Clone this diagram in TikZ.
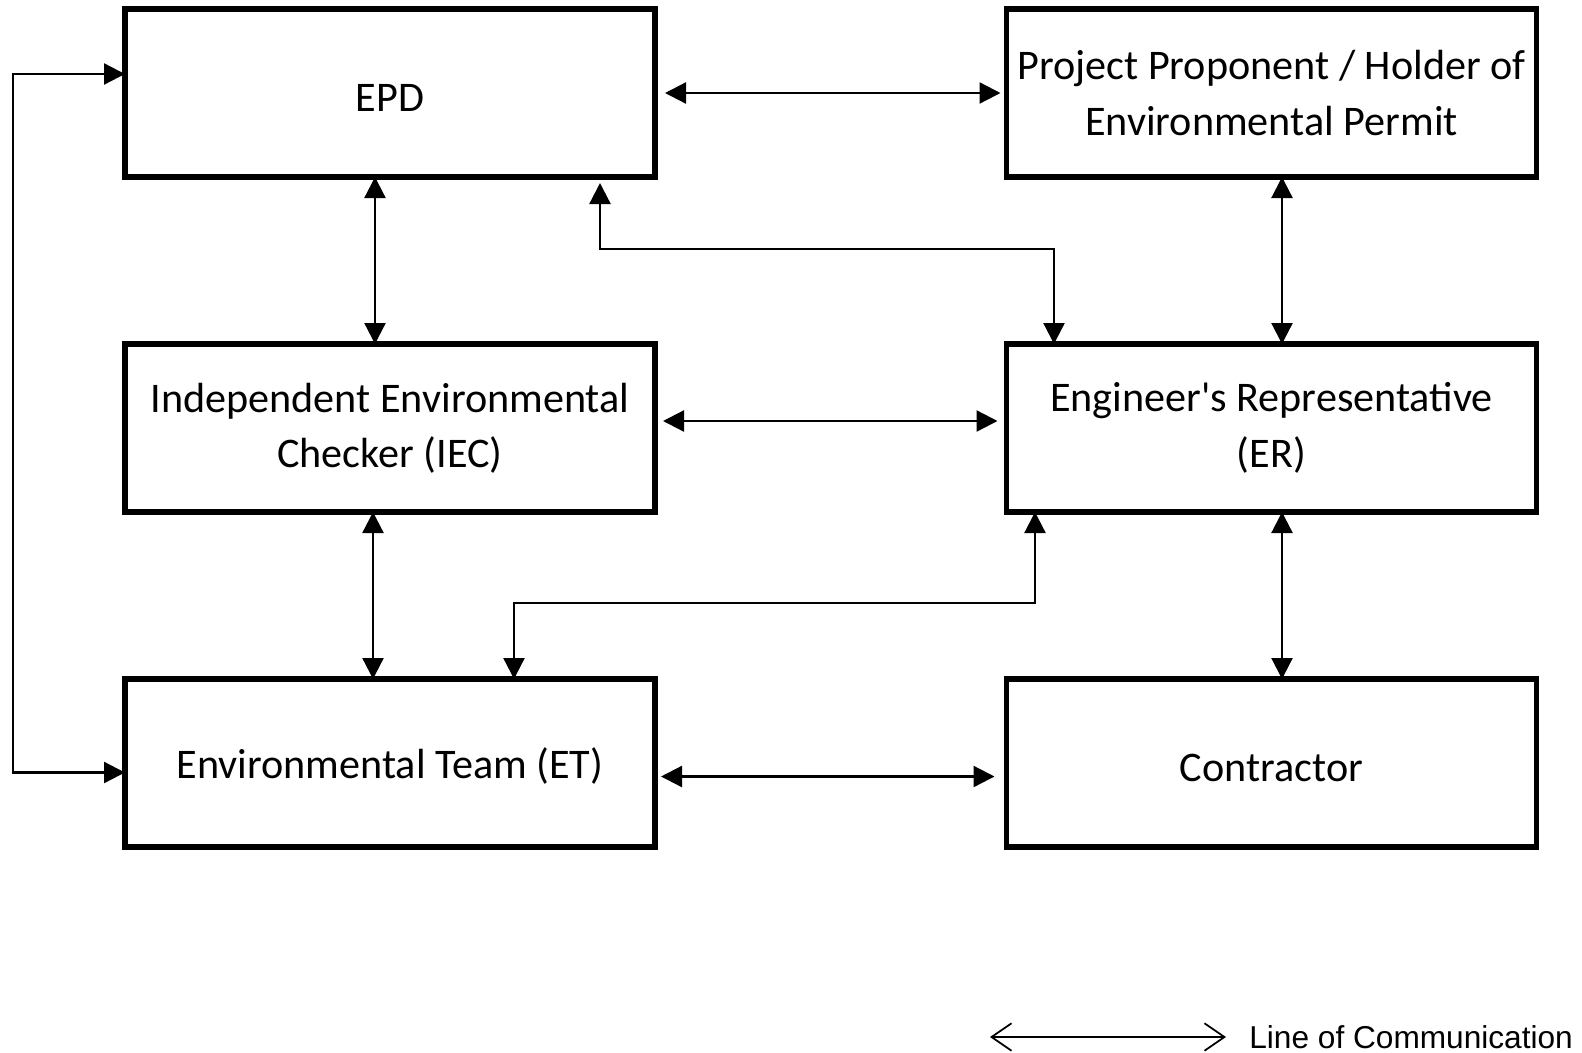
\documentclass[tikz,border=0pt]{standalone}
\usepackage{fontspec}
\setmainfont{Carlito}
\newfontfamily\legendfont{Liberation Sans}
\usetikzlibrary{arrows.meta, positioning}
\tikzstyle{process} = [rectangle, minimum width=10.6cm, minimum height=3.36cm, text centered, align=center, draw=black, line width=3pt, outer sep=0pt, font=\fontsize{24}{31.5}\selectfont, execute at begin node={\rule{0pt}{21.5pt}}]
\tikzstyle{arrow} = [line width=1.3pt, {Triangle[length=4.2mm,width=4.2mm]}-{Triangle[length=4.2mm,width=4.2mm]}]
\tikzstyle{legendarrow} = [line width=1pt, {Straight Barb[length=4mm,width=5.5mm]}-{Straight Barb[length=4mm,width=5.5mm]}]

\begin{document}
\begin{tikzpicture}[node distance=6.7cm]
\useasboundingbox (0,0) rectangle (31.64,-21.04);

% Nodes
\node (epd) [process] at (7.8,-1.86) {EPD};
\node (pp) [process, right of=epd, node distance=17.63cm] {Project Proponent / Holder of\\Environmental Permit};
\node (iec) [process, below of=epd] {Independent Environmental\\Checker (IEC)};
\node (er) [process, below of=pp] {Engineer\textquotesingle s Representative\\(ER)};
\node (et) [process, below of=iec] {Environmental Team (ET)};
\node (con) [process, below of=er] {Contractor};

% Arrows
\draw [arrow, shorten <=0.2cm, shorten >=0.12cm] (epd.east) -- (pp.west);
\draw [arrow, shorten <=0.16cm, shorten >=0.18cm] ([yshift=0.14cm]iec.east) -- ([yshift=0.14cm]er.west);
\draw [arrow, shorten <=0.12cm, shorten >=0.24cm] ([yshift=-0.27cm]et.east) -- ([yshift=-0.27cm]con.west);

\draw [arrow] ([xshift=-0.3cm]epd.south) -- ([xshift=-0.3cm]iec.north);
\draw [arrow] ([xshift=-0.34cm]iec.south) -- ([xshift=-0.34cm]et.north);
\draw [arrow] ([xshift=0.21cm]pp.south) -- ([xshift=0.21cm]er.north);
\draw [arrow] ([xshift=0.21cm]er.south) -- ([xshift=0.21cm]con.north);

% Elbow links
\draw [arrow, shorten <=0.12cm] ([xshift=4.2cm]epd.south) -- ++(0,-1.44) -| ([xshift=-4.35cm]er.north);
\draw [arrow] ([xshift=2.48cm]et.north) -- ++(0,1.52) -| ([xshift=-4.73cm]er.south);
\draw [arrow] ([yshift=0.38cm]epd.west) -- ++(-2.24,0) |- ([yshift=-0.19cm]et.west);

% Legend
\coordinate (legl) at (19.8,-20.74);
\coordinate (legr) at (24.52,-20.74);
\draw [legendarrow] (legl) -- (legr);
\node (legtext) [anchor=west, inner sep=0pt, font=\legendfont\fontsize{18}{21}\selectfont] at (24.98,-20.74) {Line of Communication};

\end{tikzpicture}
\end{document}
